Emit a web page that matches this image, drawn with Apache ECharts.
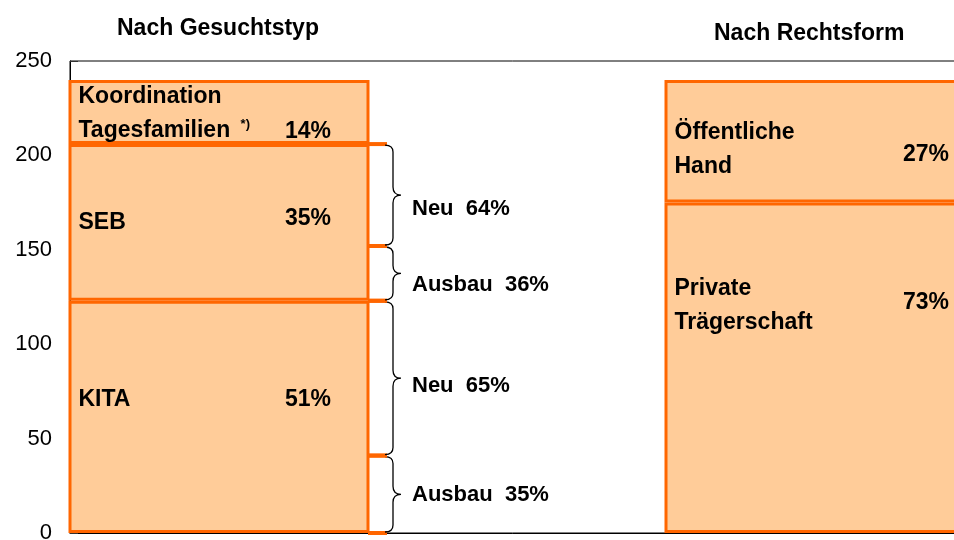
<!DOCTYPE html>
<html>
<head>
<meta charset="utf-8">
<script src="https://cdn.jsdelivr.net/npm/echarts@6/dist/echarts.min.js"></script>
<style>
  html, body { margin: 0; padding: 0; background: #fff; }
  #chart { width: 954px; height: 540px; }
</style>
</head>
<body>
<div id="chart"></div>
<script>
// Balken: links nach Gesuchstyp, rechts nach Rechtsform (Lücke dazwischen)
var categories = ['Gesuchtstyp', '', 'Rechtsform'];

var leftNames  = ['KITA', 'SEB', 'Koordination\nTagesfamilien {sup|*)}'];
var leftValues = [123, 83, 34];
var leftPct    = ['51%', '35%', '14%'];

var rightNames  = ['Private\nTrägerschaft', 'Öffentliche\nHand'];
var rightValues = [175, 65];
var rightPct    = ['73%', '27%'];

// Klammern rechts vom linken Balken (von, bis, Text)
var braceFrom = [0, 41, 123, 152];
var braceTo   = [41, 123, 152, 206];
var braceText = ['Ausbau  35%', 'Neu  65%', 'Ausbau  36%', 'Neu  64%'];

var yTicks = { min: 0, max: 250, interval: 50 };

// Layout-Feinheiten (Pixel)
var leftNameDy  = [-17, 0, 2];
var rightNameDy = [-62, 8];
var leftPctDy   = [-17, -4, 20];
var rightPctDy  = [-65, 13];
var braceTextDy = [1, 8, 12, 14];

var ORANGE = '#FF6600', FILL = '#FFCC99';
var BOLD = 'bold';
var FONT = 'Liberation Sans, Arial, sans-serif';

var myChart = echarts.init(document.getElementById('chart'));

function barSeries(idx, value, name, dy) {
  var d = ['-', '-', '-'];
  d[idx] = value;
  return {
    type: 'bar',
    stack: 'total',
    barWidth: 301,
    data: d,
    itemStyle: { color: FILL, borderColor: ORANGE, borderWidth: 3 },
    label: {
      show: true,
      position: 'insideLeft',
      distance: 10,
      offset: [0, dy],
      formatter: name,
      color: '#000',
      fontFamily: FONT,
      fontWeight: BOLD,
      fontSize: 23,
      lineHeight: 34,
      rich: {
        sup: { fontSize: 13, fontWeight: BOLD, fontFamily: FONT, color: '#000', padding: [0, 0, 14, 4] }
      }
    },
    silent: true,
    z: 2
  };
}

function pctSeries(idx, values, pcts, dx, dys) {
  var base = 0, data = [];
  values.forEach(function (v, i) {
    data.push({
      value: [idx, base + v / 2],
      label: { formatter: pcts[i], offset: [dx, dys[i]] }
    });
    base += v;
  });
  return {
    type: 'scatter',
    symbolSize: 0,
    data: data,
    itemStyle: { opacity: 1 },
    label: {
      show: true,
      position: 'inside',
      color: '#000',
      opacity: 1,
      fontFamily: FONT,
      fontWeight: BOLD,
      fontSize: 23
    },
    silent: true,
    z: 5
  };
}

var series = [];
leftValues.forEach(function (v, i) { series.push(barSeries(0, v, leftNames[i], leftNameDy[i])); });
rightValues.forEach(function (v, i) { series.push(barSeries(2, v, rightNames[i], rightNameDy[i])); });
series.push(pctSeries(0, leftValues, leftPct, 89, leftPctDy));
series.push(pctSeries(2, rightValues, rightPct, 111, rightPctDy));

// geschweifte Klammern
series.push({
  type: 'custom',
  data: braceFrom.map(function (f, i) { return [0, f, braceTo[i]]; }),
  encode: { x: 0, y: [1, 2] },
  clip: false,
  z: 6,
  renderItem: function (params, api) {
    var i = params.dataIndex;
    var a = api.coord([0, api.value(1)]);
    var b = api.coord([0, api.value(2)]);
    var xe = a[0] + api.size([1, 0])[0] / 2;
    var top = Math.min(a[1], b[1]), bot = Math.max(a[1], b[1]);
    var mid = (top + bot) / 2;
    var x0 = xe + 17, x1 = xe + 25, x2 = xe + 33;
    var r = Math.min(8, (bot - top) / 4);
    var p = 'M' + x0 + ',' + (top + 1) +
      ' Q' + x1 + ',' + (top + 1) + ' ' + x1 + ',' + (top + r) +
      ' L' + x1 + ',' + (mid - r) +
      ' Q' + x1 + ',' + mid + ' ' + x2 + ',' + mid +
      ' Q' + x1 + ',' + mid + ' ' + x1 + ',' + (mid + r) +
      ' L' + x1 + ',' + (bot - r) +
      ' Q' + x1 + ',' + (bot - 1) + ' ' + x0 + ',' + (bot - 1);
    return {
      type: 'group',
      children: [
        { type: 'line', shape: { x1: xe, y1: top, x2: xe + 19, y2: top }, style: { stroke: ORANGE, lineWidth: 4 } },
        { type: 'line', shape: { x1: xe, y1: bot, x2: xe + 19, y2: bot }, style: { stroke: ORANGE, lineWidth: 4 } },
        { type: 'path', shape: { pathData: p }, style: { stroke: '#000', fill: null, lineWidth: 1.3 } },
        { type: 'text', x: xe + 44, y: mid + braceTextDy[i],
          style: { text: braceText[i], fill: '#000', font: 'bold 22px ' + FONT, textVerticalAlign: 'middle' } }
      ]
    };
  }
});

var option = {
  backgroundColor: '#fff',
  animation: false,
  title: [
    { text: 'Nach Gesuchtstyp', left: 112, top: 12,
      textStyle: { fontFamily: FONT, fontWeight: BOLD, fontSize: 23, color: '#000' } },
    { text: 'Nach Rechtsform', left: 709, top: 17,
      textStyle: { fontFamily: FONT, fontWeight: BOLD, fontSize: 23, color: '#000' } }
  ],
  grid: {
    left: 70, right: -10, top: 61, bottom: 7,
    outerBoundsMode: 'none',
    show: true, borderColor: '#000', borderWidth: 1, backgroundColor: '#fff'
  },
  xAxis: {
    type: 'category',
    data: categories,
    axisLine: { show: true, lineStyle: { color: '#000' } },
    axisTick: { show: false },
    axisLabel: { show: false },
    splitLine: { show: false }
  },
  yAxis: {
    type: 'value',
    min: yTicks.min, max: yTicks.max, interval: yTicks.interval,
    axisLine: { show: true, lineStyle: { color: '#000' } },
    axisTick: { show: true, inside: true, length: 8, lineStyle: { color: '#333' } },
    axisLabel: { color: '#000', fontFamily: FONT, fontSize: 22, margin: 18, padding: [4, 0, 0, 0] },
    splitLine: { show: false }
  },
  series: series
};

myChart.setOption(option);
</script>
</body>
</html>
